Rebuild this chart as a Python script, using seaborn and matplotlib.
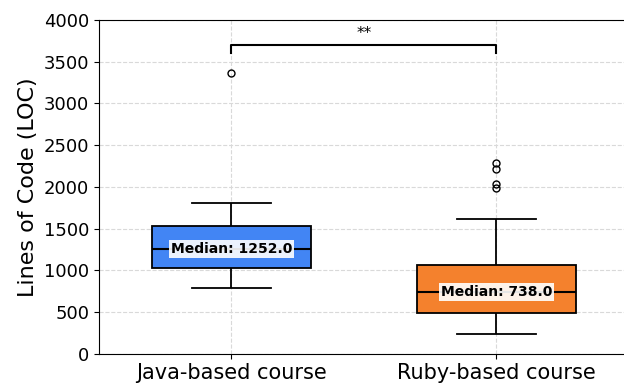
import pandas as pd
import numpy as np
import matplotlib
matplotlib.use("Agg")
import matplotlib.pyplot as plt
import seaborn as sns

courses = ["Java-based course", "Ruby-based course"]
java_loc = [788, 845, 910, 962, 1001, 1025, 1090, 1138, 1187, 1220, 1252,
            1290, 1336, 1378, 1450, 1535, 1580, 1642, 1705, 1810, 3369]
ruby_loc = [240, 305, 352, 398, 421, 455, 484, 520, 566, 610, 655, 702, 738,
            790, 842, 895, 950, 1010, 1065, 1240, 1615, 1990, 2040, 2210, 2280]
colors = ["#4285F4", "#F4812D"]
sig_label = "**"

df = pd.DataFrame({
    "Course": [courses[0]] * len(java_loc) + [courses[1]] * len(ruby_loc),
    "LOC": java_loc + ruby_loc,
})

plt.rcParams["font.family"] = ["DejaVu Sans"]

fig = plt.figure(figsize=(6.24, 3.83), dpi=100)
ax = fig.add_axes([0.1587, 0.0765, 0.849, 0.8713])

sns.boxplot(data=df, x="Course", y="LOC", hue="Course", palette=colors,
            order=courses, hue_order=courses, width=0.6, saturation=1,
            linecolor="black", linewidth=1.3, legend=False, ax=ax,
            flierprops=dict(marker="o", markerfacecolor="none",
                            markeredgecolor="black", markersize=5),
            medianprops=dict(color="black", linewidth=1.5))

for i, vals in enumerate([java_loc, ruby_loc]):
    med = np.median(vals)
    ax.text(i, med, f"Median: {med:.1f}", ha="center", va="center",
            fontsize=10, fontweight="bold", color="black",
            bbox=dict(facecolor="white", alpha=0.9, edgecolor="none", pad=1.5))

# significance bracket
y, h = 3600, 100
ax.plot([0, 0, 1, 1], [y, y + h, y + h, y], color="black", lw=1.5)
ax.text(0.5, y + h + 50, sig_label, ha="center", va="bottom", fontsize=11)

ax.set_ylim(0, 4000)
ax.set_xlim(-0.5, 1.5)
ax.set_xlabel("")
ax.set_ylabel("Lines of Code (LOC)", fontsize=16)
ax.tick_params(axis="x", labelsize=15)
ax.tick_params(axis="y", labelsize=13)
ax.grid(True, linestyle="--", color="#d9d9d9", linewidth=0.8)
ax.set_axisbelow(True)

fig.savefig("out.png", dpi=100)
